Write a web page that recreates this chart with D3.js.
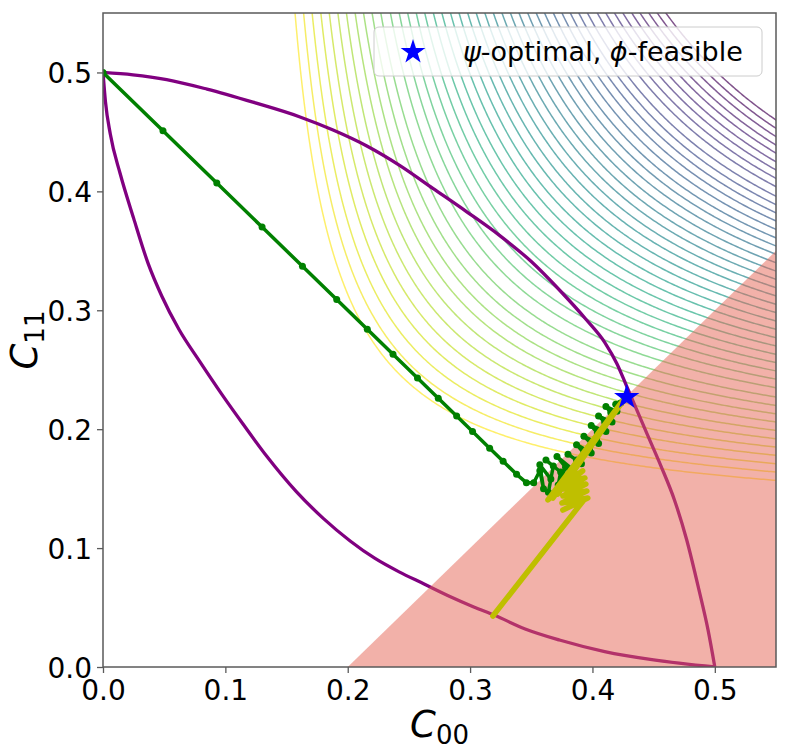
<!DOCTYPE html>
<html>
<head>
<meta charset="utf-8">
<script src="https://cdn.jsdelivr.net/npm/d3@7"></script>
<style>
body { margin: 0; background: #fff; }
svg { font-family: "DejaVu Sans", sans-serif; }
</style>
</head>
<body>
<svg width="789" height="754"></svg>
<script>
// tick values and labels
var ticks = [0, 0.1, 0.2, 0.3, 0.4, 0.5];
var tickLabels = ["0.0", "0.1", "0.2", "0.3", "0.4", "0.5"];

// upper boundary of the feasible set (purple)
var upperC00 = [0, 0.0245, 0.052, 0.085, 0.1225, 0.161, 0.188, 0.216, 0.243, 0.2696, 0.297, 0.324, 0.350, 0.374, 0.395, 0.410, 0.420, 0.428, 0.444, 0.456, 0.467, 0.477, 0.487, 0.4945, 0.5];
var upperC11 = [0.5, 0.498, 0.494, 0.486, 0.475, 0.4626, 0.4516, 0.438, 0.4215, 0.4025, 0.383, 0.363, 0.341, 0.316, 0.292, 0.273, 0.255, 0.236, 0.1975, 0.169, 0.1405, 0.107, 0.065, 0.031, 0];

// lower boundary (purple)
var lowerC00 = [0, 0.002, 0.006, 0.014, 0.025, 0.037, 0.048, 0.062, 0.079, 0.097, 0.115, 0.134, 0.158, 0.180, 0.202, 0.222, 0.242, 0.262, 0.283, 0.303, 0.320, 0.345, 0.373, 0.410, 0.450, 0.500];
var lowerC11 = [0.5, 0.4755, 0.448, 0.415, 0.3775, 0.339, 0.312, 0.284, 0.257, 0.2295, 0.2035, 0.177, 0.1475, 0.125, 0.106, 0.0915, 0.080, 0.070, 0.0595, 0.0505, 0.0435, 0.032, 0.0227, 0.013, 0.006, 0];

// green iterates
var greenC00 = [0, 0.049, 0.093, 0.130, 0.163, 0.191, 0.216, 0.237, 0.257, 0.274, 0.289, 0.302, 0.316, 0.327, 0.338, 0.346,
  0.352, 0.357, 0.360, 0.357, 0.366, 0.364, 0.368, 0.362, 0.374, 0.372, 0.378, 0.371, 0.384, 0.387, 0.380, 0.391, 0.393,
  0.387, 0.399, 0.399, 0.393, 0.405, 0.404, 0.399, 0.411, 0.410, 0.405, 0.416, 0.415, 0.411, 0.420, 0.419, 0.423, 0.426];
var greenC11 = [0.5, 0.451, 0.407, 0.370, 0.337, 0.309, 0.284, 0.263, 0.243, 0.226, 0.211, 0.198, 0.184, 0.173, 0.162, 0.155,
  0.155, 0.165, 0.150, 0.170, 0.158, 0.147, 0.169, 0.174, 0.164, 0.153, 0.168, 0.177, 0.166, 0.174, 0.179, 0.171, 0.180,
  0.187, 0.180, 0.188, 0.194, 0.188, 0.197, 0.203, 0.198, 0.206, 0.211, 0.206, 0.214, 0.219, 0.215, 0.221, 0.222, 0.226];

// yellow iterates
var yellowC00 = [0.3186, 0.393, 0.3758, 0.3962, 0.375, 0.3954, 0.3758, 0.3946, 0.3766, 0.3938, 0.377, 0.392, 0.3636, 0.424, 0.3717, 0.4224, 0.3676, 0.4257];
var yellowC11 = [0.0429, 0.1405, 0.132, 0.1421, 0.1379, 0.148, 0.1438, 0.1539, 0.1497, 0.159, 0.155, 0.165, 0.1405, 0.2229, 0.1455, 0.2204, 0.1421, 0.2246];

// psi-optimal, phi-feasible point
var starC00 = 0.428, starC11 = 0.227;

// contour levels of psi
var psiLevels = [0.1221, 0.1263, 0.1304, 0.1345, 0.1384, 0.1423, 0.1461, 0.1499, 0.1535, 0.1571, 0.1607,
  0.1646, 0.1681, 0.1714, 0.1747, 0.1779, 0.1811, 0.1842, 0.1873, 0.1903, 0.1933, 0.1962, 0.1991, 0.2019,
  0.2047, 0.2074, 0.2101, 0.2128, 0.2154, 0.2179, 0.2205, 0.2230, 0.2254, 0.2278, 0.2302, 0.2329, 0.2352,
  0.2375, 0.2397, 0.2420, 0.2441, 0.2463, 0.2484, 0.2505];

// phi constraint: infeasible where C11 < C00 - shift
var feasibleShift = 0.2;

var svg = d3.select("svg");
var plotLeft = 103, plotRight = 776, plotTop = 13, plotBottom = 667;

var x = d3.scaleLinear().domain([0, 0.55]).range([plotLeft, plotRight]);
var y = d3.scaleLinear().domain([0, 0.55]).range([plotBottom, plotTop]);

svg.append("defs").append("clipPath").attr("id", "plotClip")
  .append("rect")
  .attr("x", plotLeft).attr("y", plotTop)
  .attr("width", plotRight - plotLeft).attr("height", plotBottom - plotTop);

var plot = svg.append("g").attr("clip-path", "url(#plotClip)");

// contours of psi (harmonic-mean shape)
var gridN = 300, gridMax = 0.6, step = gridMax / (gridN - 1);
var grid = new Float64Array(gridN * gridN);
for (var j = 0; j < gridN; j++) {
  for (var i = 0; i < gridN; i++) {
    var a = i * step, b = j * step;
    grid[j * gridN + i] = (a + b) > 0 ? a * b / (a + b) : 0;
  }
}
var contours = d3.contours().size([gridN, gridN]).thresholds(psiLevels)(grid);
var project = d3.geoTransform({
  point: function(px, py) {
    this.stream.point(x((px - 0.5) * step), y((py - 0.5) * step));
  }
});
var contourPath = d3.geoPath(project);

plot.append("g").selectAll("path")
  .data(contours)
  .enter()
  .append("path")
  .attr("d", contourPath)
  .attr("fill", "none")
  .attr("stroke", function(d, i) { return d3.interpolateViridis(1 - i / (psiLevels.length - 1)); })
  .attr("stroke-opacity", 0.68)
  .attr("stroke-width", 1.5);

var line = d3.line()
  .x(function(d) { return x(d[0]); })
  .y(function(d) { return y(d[1]); });
var smoothLine = d3.line()
  .x(function(d) { return x(d[0]); })
  .y(function(d) { return y(d[1]); })
  .curve(d3.curveMonotoneX);

plot.append("path")
  .attr("d", smoothLine(d3.zip(upperC00, upperC11)))
  .attr("fill", "none").attr("stroke", "purple").attr("stroke-width", 3.3)
  .attr("stroke-linejoin", "round");

plot.append("path")
  .attr("d", smoothLine(d3.zip(lowerC00, lowerC11)))
  .attr("fill", "none").attr("stroke", "purple").attr("stroke-width", 3.3)
  .attr("stroke-linejoin", "round");

// infeasible half plane
var redPoly = [[feasibleShift, 0], [gridMax, gridMax - feasibleShift], [gridMax, 0]];
plot.append("path")
  .attr("d", line(redPoly) + "Z")
  .attr("fill", "#e66454")
  .attr("fill-opacity", 0.5);

var greenPts = d3.zip(greenC00, greenC11);
plot.append("path")
  .attr("d", line(greenPts))
  .attr("fill", "none").attr("stroke", "green").attr("stroke-width", 3.5)
  .attr("stroke-linejoin", "round");
plot.append("g").selectAll("circle")
  .data(greenPts)
  .enter()
  .append("circle")
  .attr("cx", function(d) { return x(d[0]); })
  .attr("cy", function(d) { return y(d[1]); })
  .attr("r", 3.5)
  .attr("fill", "green");

plot.append("path")
  .attr("d", line(d3.zip(yellowC00, yellowC11)))
  .attr("fill", "none").attr("stroke", "#bfbf00").attr("stroke-width", 5.5)
  .attr("stroke-linejoin", "round").attr("stroke-linecap", "round");

var star = d3.symbol().type(d3.symbolStar).size(200);
plot.append("path")
  .attr("d", star())
  .attr("transform", "translate(" + x(starC00) + "," + y(starC11) + ")")
  .attr("fill", "blue");

// axes
var axisColor = "#5a5a5a";
var xAxis = svg.append("g")
  .attr("transform", "translate(0," + plotBottom + ")")
  .call(d3.axisBottom(x).tickValues(ticks).tickFormat(function(d, i) { return tickLabels[i]; }).tickSize(6).tickPadding(7));
var yAxis = svg.append("g")
  .attr("transform", "translate(" + plotLeft + ",0)")
  .call(d3.axisLeft(y).tickValues(ticks).tickFormat(function(d, i) { return tickLabels[i]; }).tickSize(6).tickPadding(5));

[xAxis, yAxis].forEach(function(ax) {
  ax.select(".domain").remove();
  ax.selectAll(".tick line").attr("stroke", axisColor).attr("stroke-width", 1.3);
  ax.selectAll(".tick text")
    .attr("fill", "#000")
    .style("font-size", "28px")
    .style("font-family", "DejaVu Sans");
});
yAxis.selectAll(".tick text").attr("dy", "0.36em");

svg.append("rect")
  .attr("x", plotLeft).attr("y", plotTop)
  .attr("width", plotRight - plotLeft).attr("height", plotBottom - plotTop)
  .attr("fill", "none")
  .attr("stroke", axisColor)
  .attr("stroke-width", 1.5);

// axis labels
var xl = svg.append("text")
  .attr("x", (plotLeft + plotRight) / 2).attr("y", 737)
  .attr("text-anchor", "middle")
  .style("font-size", "37px");
xl.append("tspan").attr("font-style", "italic").text("C");
xl.append("tspan").attr("dy", 7).style("font-size", "26px").text("00");

var yl = svg.append("text")
  .attr("transform", "translate(37," + (plotTop + plotBottom) / 2 + ") rotate(-90)")
  .attr("text-anchor", "middle")
  .style("font-size", "37px");
yl.append("tspan").attr("font-style", "italic").text("C");
yl.append("tspan").attr("dy", 7).style("font-size", "26px").text("11");

// legend
var legend = svg.append("g");
legend.append("rect")
  .attr("x", 374).attr("y", 27)
  .attr("width", 388).attr("height", 49)
  .attr("rx", 5)
  .attr("fill", "white").attr("fill-opacity", 0.8)
  .attr("stroke", "#cccccc").attr("stroke-width", 1);
legend.append("path")
  .attr("d", d3.symbol().type(d3.symbolStar).size(190)())
  .attr("transform", "translate(413,52)")
  .attr("fill", "blue");
var lt = legend.append("text")
  .attr("x", 463).attr("y", 61)
  .style("font-size", "27px");
lt.append("tspan").attr("font-style", "italic").text("ψ");
lt.append("tspan").text("-optimal, ");
lt.append("tspan").attr("font-style", "italic").text("ϕ");
lt.append("tspan").text("-feasible");
</script>
</body>
</html>
